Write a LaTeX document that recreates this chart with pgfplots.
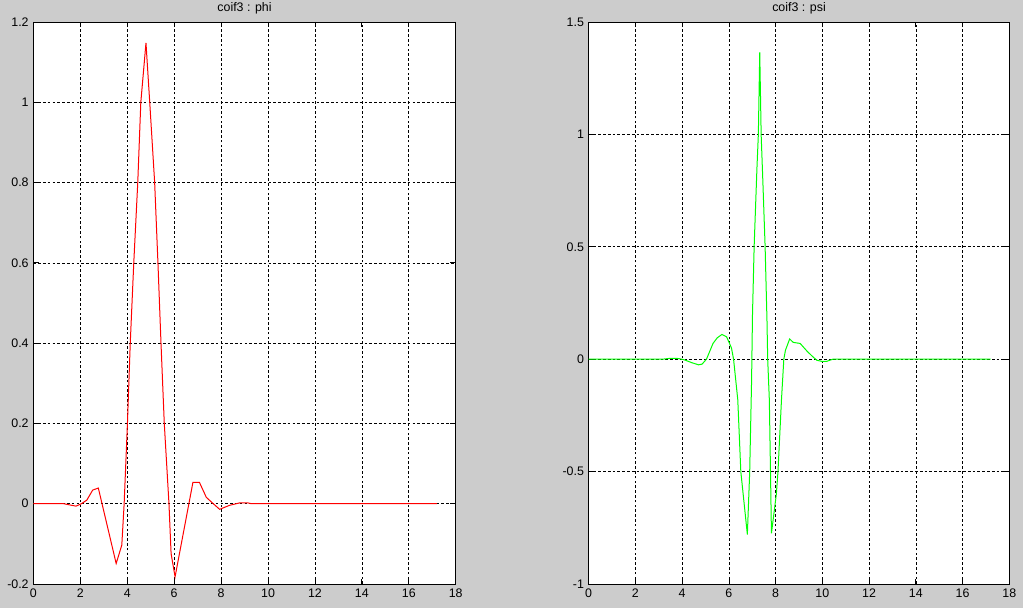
\documentclass[border=0pt]{standalone}
\usepackage{pgfplots}
\pgfplotsset{compat=1.18}
\usepackage{fontspec}
\setmainfont{Liberation Sans}
\definecolor{figbg}{RGB}{204,204,204}
\definecolor{mred}{RGB}{255,0,0}
\definecolor{mgreen}{RGB}{0,255,0}
\pgfplotsset{
  every axis title/.style={at={(0.5,1)}, anchor=base, inner sep=0pt, yshift=8pt},
  mstyle/.style={
    scale only axis,
    anchor=south west,
    height=421.5pt,
    xmin=0, xmax=18,
    xtick={0,2,4,6,8,10,12,14,16,18},
    xticklabels={0,2,4,6,8,10,12,14,16,18},
    grid=major,
    grid style={black, dash pattern=on 2pt off 1.6pt, line width=0.5pt},
    axis line style={black, line width=0.6pt},
    tick style={black, line width=0.6pt},
    major tick length=4pt,
    axis background/.style={fill=white},
    ticklabel style={font=\fontsize{9.3}{11}\selectfont},
    /pgf/number format/assume math mode=true,
    title style={font=\fontsize{9.3}{11}\selectfont},
    every axis plot/.append style={line width=0.75pt, mark=none},
  }
}
\begin{document}
\begin{tikzpicture}
\fill[figbg] (0,0) rectangle (767.25pt,456pt);
\path[use as bounding box] (0,0) rectangle (767.25pt,456pt);
\begin{axis}[mstyle, at={(25pt,18pt)}, width=316.8pt,
  ymin=-0.2, ymax=1.2,
  ytick={-0.2,0,0.2,0.4,0.6,0.8,1,1.2},
  yticklabels={-0.2,0,0.2,0.4,0.6,0.8,1,1.2},
  title={coif3 : phi}]
\addplot[mred] coordinates {
(0,0) (1.3,0) (1.55,-0.003) (1.82,-0.006) (2.05,0) (2.28,0.009) (2.53,0.034) (2.77,0.039)
(3.53,-0.149) (3.77,-0.103) (3.87,0) (4.01,0.2) (4.13,0.4) (4.28,0.6) (4.45,0.8) (4.58,1.0)
(4.80,1.148) (4.96,1.0) (5.17,0.8) (5.31,0.6) (5.44,0.4) (5.58,0.2) (5.78,0) (5.87,-0.124)
(6.04,-0.182) (6.80,0.053) (7.08,0.053) (7.37,0.016) (7.65,0.001) (7.94,-0.014) (8.36,-0.004)
(8.79,0.002) (9.15,0.002) (9.29,0) (17.2,0)
};
\end{axis}
\begin{axis}[mstyle, at={(441.5pt,18pt)}, width=315.5pt,
  ymin=-1, ymax=1.5,
  ytick={-1,-0.5,0,0.5,1,1.5},
  yticklabels={-1,-0.5,0,0.5,1,1.5},
  title={coif3 : psi}]
\addplot[mgreen] coordinates {
(0,0) (3.15,0) (3.5,0.004) (3.85,0.003) (4.1,-0.003) (4.4,-0.015) (4.7,-0.025) (4.85,-0.022)
(5.04,0) (5.32,0.07) (5.5,0.095) (5.7,0.11) (5.9,0.10) (6.11,0.05) (6.2,0.0) (6.38,-0.18)
(6.51,-0.5) (6.79,-0.78) (6.89,-0.5) (6.97,-0.1) (7.01,0.2) (7.08,0.5) (7.2,0.85) (7.26,1.0)
(7.32,1.365) (7.38,1.0) (7.45,0.8) (7.55,0.5) (7.63,0.17) (7.66,0) (7.73,-0.18) (7.78,-0.5)
(7.82,-0.775) (8.03,-0.6) (8.10,-0.5) (8.25,-0.18) (8.35,0.0) (8.42,0.04) (8.60,0.09)
(8.75,0.075) (9.05,0.07) (9.35,0.035) (9.6,0.01) (9.77,-0.005) (10.0,-0.01) (10.17,-0.01)
(10.45,0) (17.2,0)
};
\end{axis}
\end{tikzpicture}
\end{document}
